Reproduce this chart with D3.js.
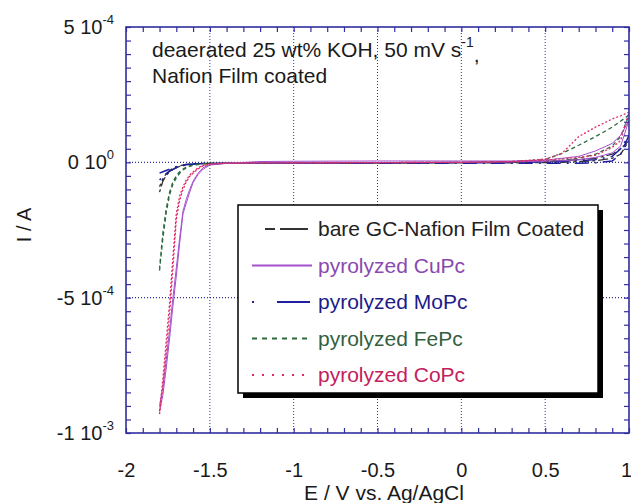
<!DOCTYPE html>
<html>
<head>
<meta charset="utf-8">
<script src="https://cdn.jsdelivr.net/npm/d3@7/dist/d3.min.js"></script>
<style>
  html, body { margin: 0; padding: 0; background: #ffffff; }
  svg { display: block; }
  text { font-family: "Liberation Sans", Arial, sans-serif; }
</style>
</head>
<body>
<svg id="chart" width="631" height="503"></svg>
<script>
// ---------- data (currents in units of 1e-4 A) ----------
const currentUnit = 1e-4;
const potential = [-1.80,-1.78,-1.76,-1.74,-1.72,-1.70,-1.68,-1.66,-1.64,-1.62,-1.60,-1.57,-1.54,-1.50,-1.40,-1.20,-1.00,-0.50,0.00,0.30,0.50,0.60,0.70,0.80,0.90,0.95,1.00];

const bareFwd = [-1.1,-0.7,-0.48,-0.35,-0.26,-0.2,-0.15,-0.12,-0.1,-0.08,-0.07,-0.05,-0.04,-0.04,-0.04,-0.04,-0.04,-0.03,-0.02,0.0,0.03,0.06,0.1,0.15,0.3,0.5,0.8];
const bareRev = [-0.9,-0.6,-0.42,-0.3,-0.22,-0.17,-0.13,-0.1,-0.08,-0.07,-0.06,-0.05,-0.04,-0.04,-0.04,-0.04,-0.04,-0.03,-0.02,-0.02,-0.01,0.0,0.03,0.06,0.15,0.3,0.8];

const moPcFwd = [-0.65,-0.55,-0.42,-0.33,-0.26,-0.2,-0.15,-0.12,-0.1,-0.08,-0.07,-0.05,-0.04,-0.04,-0.03,-0.03,-0.03,-0.02,-0.01,0.0,0.02,0.04,0.06,0.1,0.22,0.5,1.0];
const moPcRev = [-0.4,-0.35,-0.3,-0.25,-0.2,-0.16,-0.13,-0.1,-0.08,-0.07,-0.06,-0.05,-0.04,-0.04,-0.03,-0.03,-0.03,-0.03,-0.03,-0.03,-0.03,-0.03,-0.03,-0.02,0.05,0.3,1.0];

const fePcFwd = [-4.0,-2.8,-1.85,-1.2,-0.8,-0.58,-0.4,-0.28,-0.2,-0.15,-0.11,-0.08,-0.06,-0.05,-0.04,-0.03,-0.02,-0.01,0.0,0.03,0.1,0.33,0.63,0.95,1.3,1.52,1.75];
const fePcRev = [-3.9,-2.6,-1.7,-1.1,-0.72,-0.5,-0.35,-0.25,-0.18,-0.13,-0.1,-0.07,-0.05,-0.04,-0.03,-0.03,-0.02,-0.01,0.0,0.02,0.05,0.08,0.15,0.3,0.6,0.95,1.75];

const cuPcFwd = [-9.2,-8.6,-7.6,-6.5,-5.3,-4.2,-3.0,-1.9,-1.5,-1.1,-0.75,-0.45,-0.25,-0.1,-0.04,0.03,0.04,0.05,0.05,0.05,0.08,0.15,0.22,0.42,0.7,1.0,1.55];
const cuPcRev = [-9.0,-8.3,-7.3,-6.2,-5.0,-3.9,-2.8,-1.8,-1.35,-1.0,-0.7,-0.4,-0.2,-0.08,-0.03,-0.02,-0.02,-0.01,0.0,0.02,0.04,0.06,0.1,0.18,0.35,0.6,1.55];

const coPcFwd = [-9.3,-8.3,-7.0,-5.6,-3.9,-2.1,-1.4,-1.0,-0.72,-0.52,-0.4,-0.24,-0.13,-0.07,-0.03,-0.02,-0.02,-0.01,0.0,0.03,0.12,0.33,0.95,1.3,1.6,1.72,1.85];
const coPcRev = [-9.2,-8.0,-6.6,-5.2,-3.5,-1.9,-1.25,-0.9,-0.65,-0.47,-0.36,-0.2,-0.11,-0.06,-0.03,-0.02,-0.02,-0.01,0.0,0.02,0.08,0.13,0.18,0.26,0.55,0.8,1.85];

const seriesNames = ["bare GC-Nafion Film Coated","pyrolyzed CuPc","pyrolyzed MoPc","pyrolyzed FePc","pyrolyzed CoPc"];

const xTicks = [-2,-1.5,-1,-0.5,0,0.5,1];
const xTickLabels = ["-2","-1.5","-1","-0.5","0","0.5","1"];
const yTicks = [5e-4, 0, -5e-4, -1e-3];
const yTickMantissa = ["5","0","-5","-1"];
const yTickExponent = ["-4","0","-4","-3"];
const xGrid = [-1.5,-1,-0.5,0,0.5];
const yGrid = [0, -5e-4];

// ---------- styles ----------
const seriesStyle = [
  {fwd: bareFwd, rev: bareRev, color: "#333333", text: "#222222", dash: "3,3,10,3", width: 1.3, legendDash: "0,13,10,5,28,10"},
  {fwd: cuPcFwd, rev: cuPcRev, color: "#a550cc", text: "#8a48b0", dash: null, width: 1.0, legendDash: null},
  {fwd: moPcFwd, rev: moPcRev, color: "#1f1fa0", text: "#1c1c88", dash: "2,6,14,6", width: 1.5, legendDash: "2,23,33,10"},
  {fwd: fePcFwd, rev: fePcRev, color: "#2c6a3e", text: "#335f3f", dash: "4,3", width: 1.3, legendDash: "5,5"},
  {fwd: coPcFwd, rev: coPcRev, color: "#e02a66", text: "#c4205c", dash: "2,2", width: 1.3, legendDash: "2,8"}
];
const drawOrder = [0, 2, 3, 1, 4];

const frameColor = "#2f2fa0";
const plotL = 126, plotR = 629, plotT = 27, plotB = 433;

const svg = d3.select("#chart");
svg.append("rect").attr("width", 631).attr("height", 503).attr("fill", "#ffffff");

const x = d3.scaleLinear().domain([-2, 1]).range([plotL, plotR]);
const y = d3.scaleLinear().domain([-1e-3, 5e-4]).range([plotB, plotT]);

// grid
const grid = svg.append("g");
grid.selectAll("line.vg").data(xGrid).join("line")
  .attr("x1", d => x(d)).attr("x2", d => x(d)).attr("y1", plotT).attr("y2", plotB)
  .attr("stroke", frameColor).attr("stroke-width", 1).attr("stroke-dasharray", "1,2");
grid.selectAll("line.hg").data(yGrid).join("line")
  .attr("y1", d => y(d)).attr("y2", d => y(d)).attr("x1", plotL).attr("x2", plotR)
  .attr("stroke", frameColor).attr("stroke-width", 1.2).attr("stroke-dasharray", "1,2");

// data lines
const line = d3.line().x(d => x(d[0])).y(d => y(d[1] * currentUnit));
svg.append("defs").append("clipPath").attr("id", "clip")
  .append("rect").attr("x", plotL).attr("y", plotT).attr("width", plotR - plotL).attr("height", plotB - plotT);
const plot = svg.append("g").attr("clip-path", "url(#clip)");
drawOrder.forEach(i => {
  const s = seriesStyle[i];
  const pts = potential.map((e, k) => [e, s.fwd[k]])
    .concat(potential.map((e, k) => [e, s.rev[k]]).reverse());
  plot.append("path").datum(pts)
    .attr("d", line)
    .attr("fill", "none")
    .attr("stroke", s.color)
    .attr("stroke-width", s.width)
    .attr("stroke-dasharray", s.dash);
});

// minor ticks (inward) on all four sides
const xMinor = d3.range(-20, 10.5, 1).map(v => v / 10);
const yMinor = d3.range(-20, 10.5, 1).map(v => v * 0.5e-4);
function styleTicks(g) {
  g.select(".domain").remove();
  g.selectAll(".tick line").attr("stroke", frameColor).attr("stroke-width", 1.2);
}
svg.append("g").attr("transform", `translate(0,${plotB})`)
  .call(d3.axisTop(x).tickValues(xMinor).tickSize(5).tickFormat("")).call(styleTicks);
svg.append("g").attr("transform", `translate(0,${plotT})`)
  .call(d3.axisBottom(x).tickValues(xMinor).tickSize(5).tickFormat("")).call(styleTicks);
svg.append("g").attr("transform", `translate(${plotL},0)`)
  .call(d3.axisRight(y).tickValues(yMinor).tickSize(5).tickFormat("")).call(styleTicks);
svg.append("g").attr("transform", `translate(${plotR},0)`)
  .call(d3.axisLeft(y).tickValues(yMinor).tickSize(5).tickFormat("")).call(styleTicks);

// frame
svg.append("rect").attr("x", plotL).attr("y", plotT).attr("width", plotR - plotL).attr("height", plotB - plotT)
  .attr("fill", "none").attr("stroke", frameColor).attr("stroke-width", 1.6);

// x tick labels
const xLab = svg.append("g").attr("transform", `translate(0,${plotB})`)
  .call(d3.axisBottom(x).tickValues(xTicks).tickSize(0).tickPadding(30)
    .tickFormat((d, i) => xTickLabels[i]));
xLab.select(".domain").remove();
xLab.selectAll("text").attr("font-size", 20).attr("fill", "#1a1a1a")
  .style("font-family", "'Liberation Sans', Arial, sans-serif")
  .attr("dx", d => d === 1 ? -3 : 0);

// y tick labels with superscripts
const yLab = svg.append("g").attr("transform", `translate(${plotL},0)`)
  .call(d3.axisLeft(y).tickValues(yTicks).tickSize(0).tickPadding(12).tickFormat(""));
yLab.select(".domain").remove();
yLab.selectAll(".tick text").each(function(d, i) {
  const t = d3.select(this).attr("font-size", 20).attr("fill", "#1a1a1a")
    .style("font-family", "'Liberation Sans', Arial, sans-serif");
  t.text(null);
  t.append("tspan").text(yTickMantissa[i] + " 10");
  t.append("tspan").attr("font-size", 13).attr("dy", "-0.75em").text(yTickExponent[i]);
});

// axis titles
svg.append("text").attr("x", 384).attr("y", 500).attr("text-anchor", "middle")
  .attr("font-size", 21).attr("fill", "#1a1a1a").text("E / V vs. Ag/AgCl");
svg.append("text").attr("transform", "translate(31,225) rotate(-90)").attr("text-anchor", "middle")
  .attr("font-size", 20).attr("fill", "#1a1a1a").text("I / A");

// annotation
const ann = svg.append("text").attr("x", 152).attr("y", 57).attr("font-size", 21).attr("fill", "#1a1a1a");
ann.append("tspan").text("deaerated 25 wt% KOH, 50 mV s");
ann.append("tspan").attr("font-size", 14).attr("dy", "-0.7em").text("-1");
ann.append("tspan").attr("dy", "0.7em").text(",");
svg.append("text").attr("x", 152).attr("y", 83).attr("font-size", 21).attr("fill", "#1a1a1a")
  .text("Nafion Film coated");

// legend
const lg = svg.append("g");
const lgX = 238, lgY = 205, lgW = 360, lgH = 188;
lg.append("rect").attr("x", lgX + 5).attr("y", lgY + 5).attr("width", lgW).attr("height", lgH).attr("fill", "#000");
lg.append("rect").attr("x", lgX).attr("y", lgY).attr("width", lgW).attr("height", lgH)
  .attr("fill", "#fff").attr("stroke", "#000").attr("stroke-width", 1.5);
const rowY = d3.scaleLinear().domain([0, 4]).range([229, 375]);
seriesNames.forEach((name, i) => {
  const s = seriesStyle[i];
  lg.append("line").attr("x1", 252).attr("x2", 312).attr("y1", rowY(i)).attr("y2", rowY(i))
    .attr("stroke", s.color).attr("stroke-width", 2).attr("stroke-dasharray", s.legendDash);
  lg.append("text").attr("x", 318).attr("y", rowY(i) + 7).attr("font-size", 21)
    .attr("fill", s.text).text(name);
});
</script>
</body>
</html>
